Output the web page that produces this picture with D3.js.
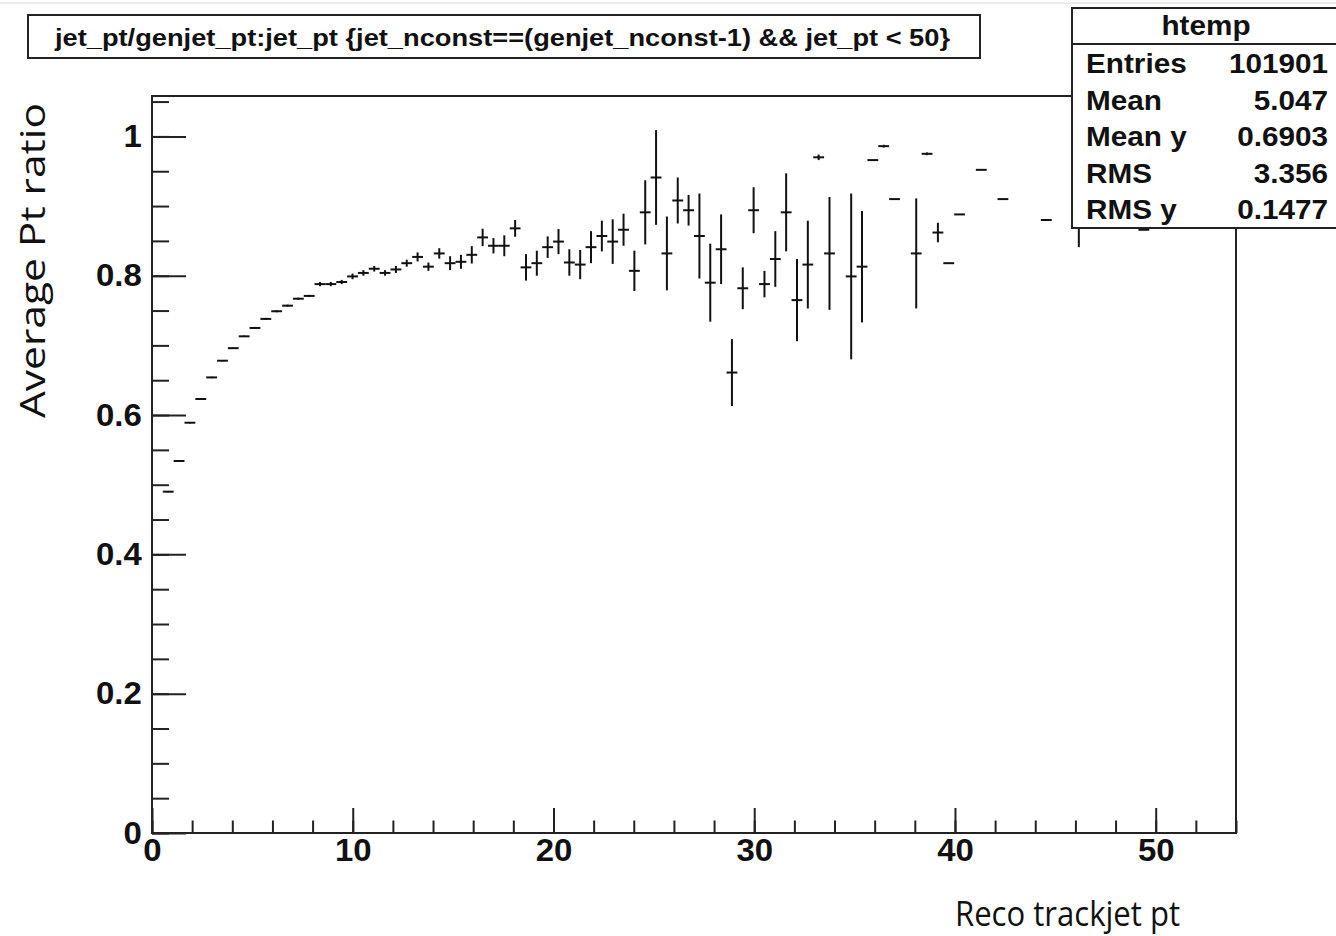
<!DOCTYPE html>
<html>
<head>
<meta charset="utf-8">
<script src="https://cdn.jsdelivr.net/npm/d3@7"></script>
<style>
    html, body { margin: 0; padding: 0; background: #fff; }
    svg { display: block; }
    .root-text { font-family: "Liberation Sans", Arial, Helvetica, sans-serif; font-weight: bold; fill: #111; }
    .title-text { font-family: "Open Sans", "Noto Sans", sans-serif; fill: #111; }
</style>
</head>
<body>
<svg id="chart" width="1336" height="936"></svg>
<script>
// profile bins (jet_pt bin centers, bin width 0.54)
const binCenters = [
    0.81, 1.35, 1.89, 2.43, 2.97, 3.51, 4.05, 4.59, 5.13, 5.67,
    6.21, 6.75, 7.29, 7.83, 8.37, 8.91, 9.45, 9.99, 10.53, 11.07,
    11.61, 12.15, 12.69, 13.23, 13.77, 14.31, 14.85, 15.39, 15.93, 16.47,
    17.01, 17.55, 18.09, 18.63, 19.17, 19.71, 20.25, 20.79, 21.33, 21.87,
    22.41, 22.95, 23.49, 24.03, 24.57, 25.11, 25.65, 26.19, 26.73, 27.27,
    27.81, 28.35, 28.89, 29.43, 29.97, 30.51, 31.05, 31.59, 32.13, 32.67,
    33.21, 33.75, 34.83, 35.37, 35.91, 36.45, 36.99, 38.07, 38.61, 39.15,
    39.69, 40.23, 41.31, 42.39, 44.55, 46.17, 49.41
];
const ptRatio = [
    0.490, 0.534, 0.589, 0.623, 0.654, 0.678, 0.696, 0.713, 0.725, 0.738,
    0.749, 0.757, 0.767, 0.771, 0.788, 0.788, 0.791, 0.799, 0.804, 0.810,
    0.804, 0.809, 0.818, 0.827, 0.813, 0.832, 0.818, 0.820, 0.830, 0.855,
    0.843, 0.843, 0.868, 0.812, 0.818, 0.841, 0.849, 0.819, 0.816, 0.841,
    0.857, 0.849, 0.866, 0.807, 0.891, 0.941, 0.832, 0.908, 0.894, 0.857,
    0.790, 0.838, 0.661, 0.782, 0.894, 0.788, 0.824, 0.891, 0.765, 0.816,
    0.970, 0.832, 0.799, 0.813, 0.966, 0.986, 0.910, 0.832, 0.975, 0.862,
    0.818, 0.888, 0.952, 0.910, 0.880, 0.885, 0.866
];
const ptRatioErr = [
    0.001, 0.001, 0.001, 0.001, 0.001, 0.001, 0.001, 0.001, 0.0015, 0.0015,
    0.0015, 0.0015, 0.0015, 0.0015, 0.003, 0.003, 0.003, 0.004, 0.004, 0.004,
    0.004, 0.005, 0.005, 0.0065, 0.006, 0.0075, 0.010, 0.010, 0.0125, 0.0125,
    0.011, 0.015, 0.012, 0.019, 0.018, 0.0155, 0.018, 0.019, 0.021, 0.023,
    0.022, 0.032, 0.023, 0.029, 0.046, 0.068, 0.053, 0.033, 0.022, 0.061,
    0.056, 0.050, 0.048, 0.030, 0.033, 0.019, 0.040, 0.056, 0.059, 0.063,
    0.004, 0.081, 0.119, 0.080, 0, 0.002, 0, 0.079, 0.002, 0.014,
    0, 0, 0, 0, 0, 0.044, 0
];
const binHalfWidth = 0.27;

const xMajorTicks = [0, 10, 20, 30, 40, 50];
const yMajorTicks = [0, 0.2, 0.4, 0.6, 0.8, 1];

const titleText = "jet_pt/genjet_pt:jet_pt {jet_nconst==(genjet_nconst-1) && jet_pt < 50}";
const statsName = "htemp";
const statsLabels = ["Entries", "Mean", "Mean y", "RMS", "RMS y"];
const statsValues = ["101901", "5.047", "0.6903", "3.356", "0.1477"];
const xTitle = "Reco trackjet pt";
const yTitle = "Average Pt ratio";

const data = binCenters.map((c, i) => ({ x: c, y: ptRatio[i], e: ptRatioErr[i] }));

const svg = d3.select("#chart");

// frame geometry
const frameLeft = 152, frameRight = 1236, frameTop = 96, frameBottom = 833;

const x = d3.scaleLinear().domain([0, 54]).range([frameLeft, frameRight]);
const y = d3.scaleLinear().domain([0, 1.058]).range([frameBottom, frameTop]);

// faint line at the very top
svg.append("line")
    .attr("x1", 0).attr("x2", 1336)
    .attr("y1", 3).attr("y2", 3)
    .attr("stroke", "#d8d8d8")
    .attr("stroke-width", 1);

// minor ticks
svg.append("g")
    .attr("transform", `translate(0,${frameBottom})`)
    .call(d3.axisBottom(x).tickValues(d3.range(0, 54.1, 2)).tickFormat("").tickSizeInner(-12.5).tickSizeOuter(0))
    .call(g => g.select(".domain").remove());

svg.append("g")
    .attr("transform", `translate(${frameLeft},0)`)
    .call(d3.axisLeft(y).tickValues(d3.range(0, 1.06, 0.05)).tickFormat("").tickSizeInner(-17).tickSizeOuter(0))
    .call(g => g.select(".domain").remove());

// major ticks + labels
const xAxis = svg.append("g")
    .attr("transform", `translate(0,${frameBottom})`)
    .call(d3.axisBottom(x).tickValues(xMajorTicks).tickFormat(d3.format("~g")).tickSizeInner(-25).tickSizeOuter(0).tickPadding(5));
xAxis.select(".domain").remove();

const yAxis = svg.append("g")
    .attr("transform", `translate(${frameLeft},0)`)
    .call(d3.axisLeft(y).tickValues(yMajorTicks).tickFormat(d3.format("~g")).tickSizeInner(-34).tickSizeOuter(0).tickPadding(10));
yAxis.select(".domain").remove();

svg.selectAll(".tick line").attr("stroke", "#222").attr("stroke-width", 2);

[xAxis, yAxis].forEach(ax => {
    ax.selectAll("text")
        .attr("class", "root-text")
        .attr("font-size", 32)
        .attr("font-family", null)
        .attr("fill", null)
        .attr("transform", "scale(1.03,1)");
});

// frame
svg.append("rect")
    .attr("x", frameLeft).attr("y", frameTop)
    .attr("width", frameRight - frameLeft).attr("height", frameBottom - frameTop)
    .attr("fill", "none")
    .attr("stroke", "#222")
    .attr("stroke-width", 2);

// error bars
const points = svg.append("g")
    .attr("stroke", "#111")
    .attr("stroke-width", 2);

points.selectAll("line.xerr")
    .data(data)
    .join("line")
    .attr("class", "xerr")
    .attr("x1", d => x(d.x - binHalfWidth))
    .attr("x2", d => x(d.x + binHalfWidth))
    .attr("y1", d => y(d.y))
    .attr("y2", d => y(d.y));

points.selectAll("line.yerr")
    .data(data.filter(d => d.e > 0))
    .join("line")
    .attr("class", "yerr")
    .attr("x1", d => x(d.x))
    .attr("x2", d => x(d.x))
    .attr("y1", d => y(d.y - d.e))
    .attr("y2", d => y(d.y + d.e));

// title box
svg.append("rect")
    .attr("x", 28).attr("y", 15)
    .attr("width", 952).attr("height", 43)
    .attr("fill", "#fff")
    .attr("stroke", "#222")
    .attr("stroke-width", 2);

svg.append("text")
    .attr("class", "root-text")
    .attr("x", 55).attr("y", 46)
    .attr("font-size", 24)
    .attr("textLength", 895)
    .attr("lengthAdjust", "spacingAndGlyphs")
    .text(titleText);

// stats box
const stats = svg.append("g");
stats.append("rect")
    .attr("x", 1072).attr("y", 8)
    .attr("width", 275).attr("height", 220)
    .attr("fill", "#fff")
    .attr("stroke", "#222")
    .attr("stroke-width", 2);
stats.append("line")
    .attr("x1", 1072).attr("x2", 1340)
    .attr("y1", 44).attr("y2", 44)
    .attr("stroke", "#222")
    .attr("stroke-width", 2);
stats.append("text")
    .attr("class", "root-text")
    .attr("text-anchor", "middle")
    .attr("font-size", 27)
    .attr("transform", "translate(1206,35) scale(1.1,1)")
    .text(statsName);

const rowY = d3.scalePoint().domain(statsLabels).range([73, 219]);

stats.selectAll("text.lab")
    .data(statsLabels)
    .join("text")
    .attr("class", "root-text lab")
    .attr("font-size", 27)
    .attr("transform", d => `translate(1086,${rowY(d)}) scale(1.1,1)`)
    .text(d => d);

stats.selectAll("text.val")
    .data(statsValues)
    .join("text")
    .attr("class", "root-text val")
    .attr("text-anchor", "end")
    .attr("font-size", 27)
    .attr("transform", (d, i) => `translate(1328,${rowY(statsLabels[i])}) scale(1.1,1)`)
    .text(d => d);

// axis titles
svg.append("text")
    .attr("class", "title-text")
    .attr("x", 955).attr("y", 926)
    .attr("font-size", 34)
    .attr("textLength", 225)
    .attr("lengthAdjust", "spacingAndGlyphs")
    .text(xTitle);

svg.append("text")
    .attr("class", "title-text")
    .attr("transform", "translate(45,418) rotate(-90)")
    .attr("font-size", 35)
    .attr("textLength", 315)
    .attr("lengthAdjust", "spacingAndGlyphs")
    .text(yTitle);
</script>
</body>
</html>
